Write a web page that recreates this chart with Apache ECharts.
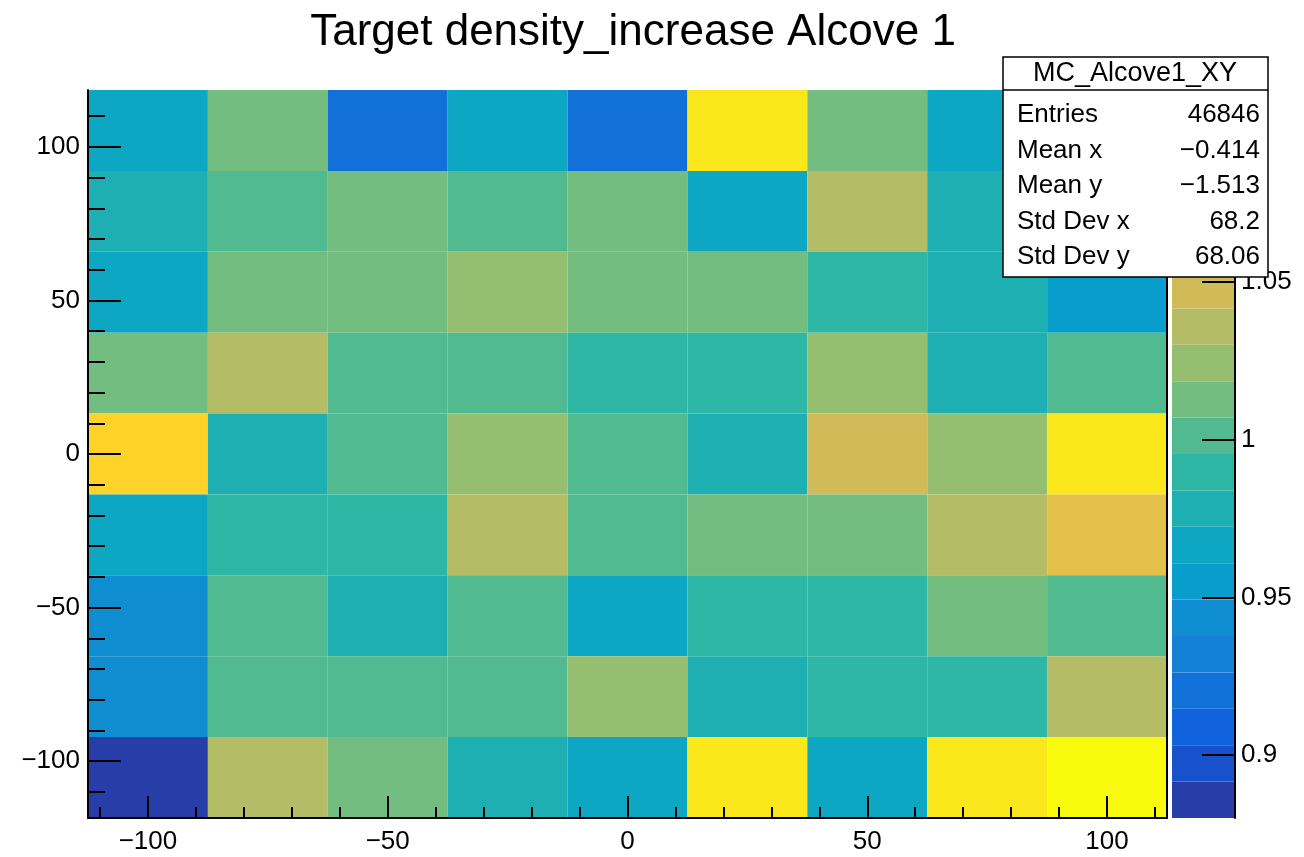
<!DOCTYPE html>
<html>
<head>
<meta charset="utf-8">
<script src="https://cdn.jsdelivr.net/npm/echarts@6/dist/echarts.min.js"></script>
<style>
  html, body { margin: 0; padding: 0; background: #fff; }
  #chart { width: 1304px; height: 857px; }
</style>
</head>
<body>
<div id="chart"></div>
<script>
// bin centres of the 9x9 histogram
var xCenters = [-100, -75, -50, -25, 0, 25, 50, 75, 100];
var yCenters = [105.33, 79, 52.67, 26.33, 0, -26.33, -52.67, -79, -105.33];

// cell values, one row per y bin (top row first)
var zRows = [
    [0.966, 1.012, 0.921, 0.968, 0.919, 1.093, 1.014, 0.967, 0.975],
    [0.979, 1.002, 1.013, 1.000, 1.012, 0.965, 1.036, 0.977, 0.988],
    [0.967, 1.014, 1.012, 1.025, 1.013, 1.011, 0.990, 0.979, 0.955],
    [1.012, 1.037, 1.001, 1.003, 0.989, 0.991, 1.024, 0.978, 1.000],
    [1.083, 0.978, 1.002, 1.026, 1.001, 0.977, 1.047, 1.024, 1.095],
    [0.966, 0.990, 0.989, 1.035, 1.002, 1.013, 1.012, 1.037, 1.060],
    [0.943, 1.001, 0.979, 1.000, 0.967, 0.990, 0.988, 1.013, 1.002],
    [0.944, 1.000, 1.002, 1.001, 1.025, 0.978, 0.989, 0.991, 1.036],
    [0.885, 1.036, 1.012, 0.979, 0.966, 1.094, 0.967, 1.093, 1.106]
];

// axis ticks
var xMajorTicks = [-100, -50, 0, 50, 100];
var xMinorTicks = [-110, -90, -80, -70, -60, -40, -30, -20, -10, 10, 20, 30, 40, 60, 70, 80, 90, 110];
var yMajorTicks = [-100, -50, 0, 50, 100];
var yMinorTicks = [-110, -90, -80, -70, -60, -40, -30, -20, -10, 10, 20, 30, 40, 60, 70, 80, 90, 110];
var zTicks = [0.9, 0.95, 1, 1.05];

// stats box
var statLabels = ['Entries', 'Mean x', 'Mean y', 'Std Dev x', 'Std Dev y'];
var statValues = ['46846', '\u22120.414', '\u22121.513', '68.2', '68.06'];

var zMin = 0.880, zMax = 1.111, nContours = 20;
var binW = 25, binH = 26.33;

// ROOT kBird palette
var birdR = [0.2082, 0.0592, 0.0780, 0.0232, 0.1802, 0.5301, 0.8186, 0.9956, 0.9764];
var birdG = [0.1664, 0.3599, 0.5041, 0.6419, 0.7178, 0.7492, 0.7328, 0.7862, 0.9832];
var birdB = [0.5293, 0.8684, 0.8385, 0.7914, 0.6425, 0.4662, 0.3499, 0.1968, 0.0539];

function birdColor(f) {
    var s = f * 8;
    var i = Math.min(7, Math.floor(s));
    var t = s - i;
    function c(a) { return Math.round((a[i] + (a[i + 1] - a[i]) * t) * 255); }
    return 'rgb(' + c(birdR) + ',' + c(birdG) + ',' + c(birdB) + ')';
}

var step = (zMax - zMin) / nContours;
var pieces = [];
var barData = [];
for (var k = 0; k < nContours; k++) {
    var lo = zMin + k * step, hi = zMin + (k + 1) * step;
    var f = Math.floor((k + 0.99) * 255 / nContours) / 254;
    var p = { gte: lo, color: birdColor(f) };
    if (k < nContours - 1) p.lt = hi; else p.lte = hi + 1;
    pieces.push(p);
    barData.push([0, lo, (lo + hi) / 2, hi]);
}

var cells = [];
zRows.forEach(function (row, j) {
    row.forEach(function (z, i) {
        cells.push([xCenters[i], yCenters[j], z]);
    });
});

function minusFmt(v) {
    return String(v).replace('-', '\u2212');
}

var font = '"Liberation Sans", Arial, sans-serif';
var black = '#000';

var graphics = [
    {
        type: 'rect', z: 100,
        shape: { x: 1003, y: 57, width: 265, height: 220 },
        style: { fill: '#fff', stroke: black, lineWidth: 1.5 }
    },
    {
        type: 'line', z: 101,
        shape: { x1: 1003, y1: 90, x2: 1268, y2: 90 },
        style: { stroke: black, lineWidth: 1.5 }
    },
    {
        type: 'text', z: 101,
        style: { x: 1135, y: 74, text: 'MC_Alcove1_XY', font: '27px ' + font, fill: black, align: 'center', verticalAlign: 'middle' }
    }
];
statLabels.forEach(function (lab, i) {
    var yy = 115 + i * 35.5;
    graphics.push({
        type: 'text', z: 101,
        style: { x: 1017, y: yy, text: lab, font: '26px ' + font, fill: black, align: 'left', verticalAlign: 'middle' }
    });
    graphics.push({
        type: 'text', z: 101,
        style: { x: 1260, y: yy, text: statValues[i], font: '26px ' + font, fill: black, align: 'right', verticalAlign: 'middle' }
    });
});

var chart = echarts.init(document.getElementById('chart'));

var option = {
    backgroundColor: '#fff',
    animation: false,
    title: {
        text: 'Target density_increase Alcove 1',
        left: 628,
        textAlign: 'center',
        top: 6,
        textStyle: { fontFamily: font, fontSize: 44, fontWeight: 'normal', color: black }
    },
    grid: [
        { left: 88, top: 90, width: 1079, height: 728 },
        { left: 1172, top: 90, width: 63, height: 728 }
    ],
    xAxis: [
        {
            type: 'value', gridIndex: 0, min: -112.5, max: 112.5, position: 'bottom', z: 10,
            axisLine: { onZero: false, lineStyle: { color: black, width: 2 } },
            axisTick: { inside: true, length: 22, customValues: xMajorTicks, lineStyle: { color: black, width: 2 } },
            axisLabel: { customValues: xMajorTicks, formatter: minusFmt, color: black, fontSize: 26, fontFamily: font, margin: 11 },
            splitLine: { show: false }
        },
        {
            type: 'value', gridIndex: 0, min: -112.5, max: 112.5, position: 'bottom', z: 10,
            axisLine: { show: false, onZero: false },
            axisTick: { inside: true, length: 11, customValues: xMinorTicks, lineStyle: { color: black, width: 2 } },
            axisLabel: { show: false },
            splitLine: { show: false }
        },
        {
            type: 'value', gridIndex: 1, min: 0, max: 1, show: false
        }
    ],
    yAxis: [
        {
            type: 'value', gridIndex: 0, min: -118.5, max: 118.5, position: 'left', z: 10,
            axisLine: { show: true, onZero: false, lineStyle: { color: black, width: 2 } },
            axisTick: { show: true, inside: true, length: 33, customValues: yMajorTicks, lineStyle: { color: black, width: 2 } },
            axisLabel: { customValues: yMajorTicks, formatter: minusFmt, color: black, fontSize: 26, fontFamily: font, margin: 8 },
            splitLine: { show: false }
        },
        {
            type: 'value', gridIndex: 0, min: -118.5, max: 118.5, position: 'left', z: 10,
            axisLine: { show: false, onZero: false },
            axisTick: { show: true, inside: true, length: 17, customValues: yMinorTicks, lineStyle: { color: black, width: 2 } },
            axisLabel: { show: false },
            splitLine: { show: false }
        },
        {
            type: 'value', gridIndex: 0, min: -118.5, max: 118.5, position: 'right', z: 10,
            axisLine: { show: true, onZero: false, lineStyle: { color: black, width: 2 } },
            axisTick: { show: false },
            axisLabel: { show: false },
            splitLine: { show: false }
        },
        {
            type: 'value', gridIndex: 1, min: zMin, max: zMax, position: 'right', z: 10,
            axisLine: { show: true, onZero: false, lineStyle: { color: black, width: 2 } },
            axisTick: { show: true, inside: true, length: 33, customValues: zTicks, lineStyle: { color: black, width: 2 } },
            axisLabel: { customValues: zTicks, color: black, fontSize: 26, fontFamily: font, margin: 6 },
            splitLine: { show: false }
        }
    ],
    visualMap: {
        type: 'piecewise',
        show: false,
        dimension: 2,
        seriesIndex: [0, 1],
        pieces: pieces
    },
    series: [
        {
            type: 'custom',
            name: 'MC_Alcove1_XY',
            xAxisIndex: 0,
            yAxisIndex: 0,
            z: 1,
            data: cells,
            encode: { x: 0, y: 1 },
            renderItem: function (params, api) {
                var x = api.value(0), y = api.value(1);
                var p0 = api.coord([x - binW / 2, y + binH / 2]);
                var p1 = api.coord([x + binW / 2, y - binH / 2]);
                return {
                    type: 'rect',
                    shape: { x: p0[0], y: p0[1], width: p1[0] - p0[0], height: p1[1] - p0[1] },
                    style: { fill: api.visual('color') }
                };
            }
        },
        {
            type: 'custom',
            name: 'palette',
            xAxisIndex: 2,
            yAxisIndex: 3,
            z: 1,
            data: barData,
            encode: { x: 0, y: [1, 3] },
            renderItem: function (params, api) {
                var p0 = api.coord([0, api.value(3)]);
                var p1 = api.coord([1, api.value(1)]);
                return {
                    type: 'rect',
                    shape: { x: p0[0], y: p0[1], width: p1[0] - p0[0], height: p1[1] - p0[1] },
                    style: { fill: api.visual('color') }
                };
            }
        }
    ],
    graphic: graphics
};

chart.setOption(option);
</script>
</body>
</html>
